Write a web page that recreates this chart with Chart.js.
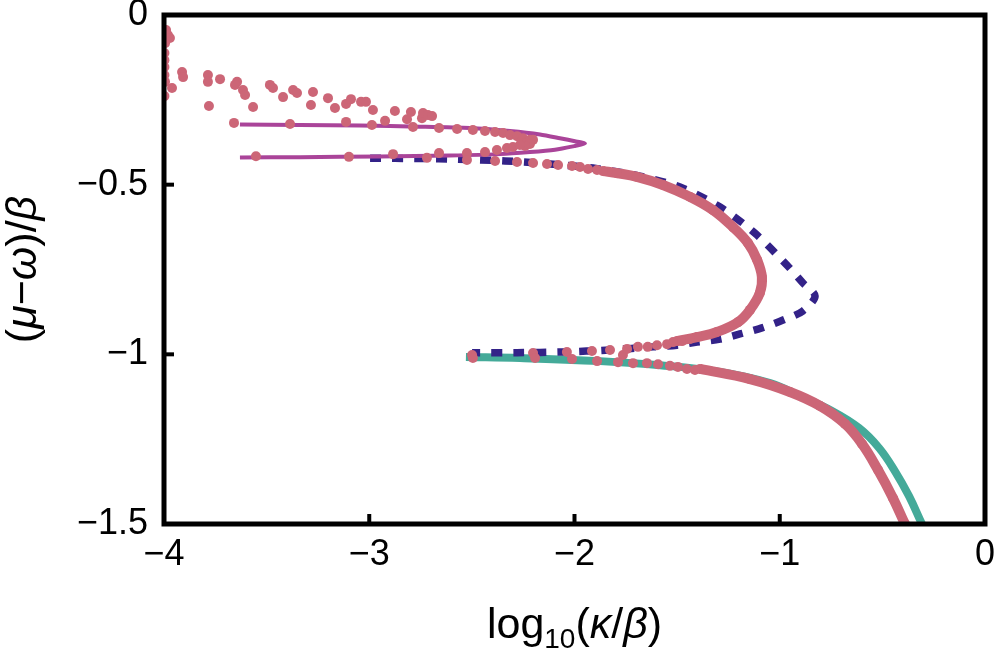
<!DOCTYPE html>
<html>
<head>
<meta charset="utf-8">
<script src="https://cdn.jsdelivr.net/npm/chart.js@4/dist/chart.umd.min.js"></script>
<style>
html,body{margin:0;padding:0;background:#fff;}
canvas{display:block;}
</style>
</head>
<body>
<canvas id="c" width="997" height="653"></canvas>
<script>
// Axis ticks
const xTicks = [-4, -3, -2, -1, 0];
const yTicks = [0, -0.5, -1, -1.5];

// Teal solid curve
const tealX = [-2.529,-2.266,-1.876,-1.583,-1.291,-1.047,-0.901,-0.745,-0.614,-0.516,-0.439,-0.370,-0.307,-0.268];
const tealY = [-1.008,-1.011,-1.020,-1.032,-1.052,-1.085,-1.123,-1.167,-1.217,-1.276,-1.344,-1.418,-1.500,-1.547];

// Dark blue dashed curve
const blueX = [-2.996,-2.753,-2.572,-2.339,-2.119,-1.910,-1.681,-1.486,-1.291,-1.121,-0.965,-0.887,-0.828,-0.887,-0.984,-1.087,-1.194,-1.291,-1.403,-1.501,-1.618,-1.827,-2.056,-2.280,-2.499];
const blueY = [-0.422,-0.423,-0.425,-0.430,-0.439,-0.451,-0.475,-0.507,-0.566,-0.643,-0.737,-0.790,-0.828,-0.872,-0.899,-0.922,-0.940,-0.955,-0.964,-0.973,-0.978,-0.987,-0.993,-0.995,-0.995];

// Purple solid curve
const purpleX = [-3.630,-3.337,-3.045,-2.753,-2.509,-2.314,-2.168,-2.071,-1.998,-1.949,-1.998,-2.095,-2.217,-2.363,-2.607,-2.948,-3.337,-3.630];
const purpleY = [-0.323,-0.324,-0.326,-0.329,-0.333,-0.342,-0.352,-0.363,-0.372,-0.379,-0.386,-0.397,-0.404,-0.410,-0.414,-0.417,-0.419,-0.420];

// Pink points, dense runs (overlapping dots)
const pinkAX = [-1.861,-1.793,-1.696,-1.569,-1.437,-1.325,-1.228,-1.155,-1.110,-1.087,-1.097,-1.145,-1.203,-1.306,-1.403,-1.501];
const pinkAY = [-0.460,-0.466,-0.477,-0.501,-0.536,-0.575,-0.625,-0.672,-0.722,-0.772,-0.819,-0.869,-0.905,-0.934,-0.949,-0.961];
const pinkBX = [-1.389,-1.145,-0.950,-0.804,-0.682,-0.599,-0.521,-0.448,-0.390,-0.361];
const pinkBY = [-1.043,-1.073,-1.111,-1.152,-1.205,-1.264,-1.341,-1.424,-1.500,-1.536];

// Pink points, sparse
const pinkX = [
 -3.990,-3.981,-3.971,-3.995,-3.998,-3.998,-3.998,-3.998,-3.995,-3.961,-3.998,-3.912,-3.907,-3.786,-3.786,-3.727,-3.781,-3.644,-3.654,-3.615,-3.605,-3.566,-3.484,-3.469,-3.420,-3.371,-3.352,-3.274,-3.284,-3.201,-3.167,-3.113,-3.089,-3.040,-3.016,-2.982,-2.923,-2.875,-2.816,-2.797,-2.743,-2.738,-2.714,-2.694,
 -3.659,-3.386,-3.113,-2.987,-2.787,-2.660,-2.572,-2.495,-2.436,-2.387,-2.348,-2.314,-2.280,-2.251,-2.231,-2.217,-2.202,-2.217,-2.241,
 -3.552,-3.099,-2.884,-2.719,-2.660,-2.524,-2.436,-2.378,-2.329,-2.300,-2.266,
 -2.524,-2.387,-2.280,-2.202,-2.134,-2.080,-2.012,-1.973,-1.934,-1.890,
 -2.499,-2.202,-2.037,-1.915,-1.827,-1.764,-1.744,-1.691,-1.643,-1.598,-1.549,-1.520,-1.476,-1.437,
 -2.495,-2.192,-2.012,-1.890,-1.788,-1.715,-1.647,-1.593,-1.535,-1.496,-1.452,-1.413
];
const pinkY = [
 -0.044,-0.059,-0.068,-0.083,-0.112,-0.133,-0.153,-0.177,-0.197,-0.215,-0.239,-0.168,-0.183,-0.177,-0.197,-0.189,-0.268,-0.197,-0.206,-0.221,-0.236,-0.271,-0.206,-0.215,-0.242,-0.221,-0.230,-0.227,-0.265,-0.245,-0.274,-0.262,-0.248,-0.256,-0.256,-0.280,-0.312,-0.283,-0.307,-0.286,-0.304,-0.289,-0.295,-0.298,
 -0.318,-0.321,-0.315,-0.324,-0.330,-0.333,-0.336,-0.339,-0.342,-0.345,-0.348,-0.354,-0.357,-0.363,-0.374,-0.368,-0.368,-0.380,-0.386,
 -0.416,-0.418,-0.410,-0.421,-0.407,-0.407,-0.404,-0.398,-0.392,-0.389,-0.383,
 -0.427,-0.430,-0.433,-0.436,-0.439,-0.442,-0.445,-0.448,-0.454,-0.457,
 -1.002,-0.996,-0.993,-0.990,-0.987,-1.002,-0.984,-0.978,-0.978,-0.973,-0.970,-0.964,-0.961,-0.955,
 -1.011,-1.011,-1.014,-1.020,-1.023,-1.026,-1.026,-1.029,-1.034,-1.037,-1.043,-1.046
];

const PINK = '#cc6677', TEAL = '#44aa99', BLUE = '#332288', PURPLE = '#aa4499';
const FONT = '"Liberation Sans", Arial, sans-serif';
const toPts = (xs, ys) => xs.map((x, i) => ({x: x, y: ys[i]}));
const minus = v => (v < 0 ? '\u2212' + Math.abs(v) : String(Math.abs(v)));
const zeroPad = s => { s.paddingTop = 0; s.paddingBottom = 0; s.paddingLeft = 0; s.paddingRight = 0; };

const framePlugin = {
  id: 'frame',
  afterDatasetsDraw(chart) {
    const {ctx, chartArea: a, scales: {x, y}} = chart;
    ctx.save();
    ctx.strokeStyle = '#000';
    ctx.lineWidth = 4;
    ctx.lineCap = 'butt';
    xTicks.forEach(v => {
      if (v === -4 || v === 0) return;
      const px = x.getPixelForValue(v);
      ctx.beginPath(); ctx.moveTo(px, a.bottom); ctx.lineTo(px, a.bottom - 10); ctx.stroke();
    });
    yTicks.forEach(v => {
      if (v === 0 || v === -1.5) return;
      const py = y.getPixelForValue(v);
      ctx.beginPath(); ctx.moveTo(a.left, py); ctx.lineTo(a.left + 10, py); ctx.stroke();
    });
    ctx.lineWidth = 5;
    ctx.strokeRect(a.left, a.top, a.right - a.left, a.bottom - a.top);
    ctx.restore();
  },
  afterDraw(chart) {
    const {ctx, chartArea: a} = chart;
    ctx.save();
    ctx.fillStyle = '#000';
    ctx.textBaseline = 'alphabetic';
    const big = 43, small = 28;
    // x title: log10(κ/β)
    const xs = [
      ['log', `${big}px ${FONT}`, 0],
      ['10', `${small}px ${FONT}`, 10],
      ['(', `${big}px ${FONT}`, 0],
      ['\u03BA', `italic ${big}px ${FONT}`, 0],
      ['/', `${big}px ${FONT}`, 0],
      ['\u03B2', `italic ${big}px ${FONT}`, 0],
      [')', `${big}px ${FONT}`, 0]
    ];
    let w = 0;
    xs.forEach(s => { ctx.font = s[1]; w += ctx.measureText(s[0]).width; });
    let cx = (a.left + a.right) / 2 - w / 2;
    const base = 638;
    xs.forEach(s => { ctx.font = s[1]; ctx.fillText(s[0], cx, base + s[2]); cx += ctx.measureText(s[0]).width; });
    // y title: (μ−ω)/β
    const ys = [
      ['(', `${big}px ${FONT}`],
      ['\u03BC', `italic ${big}px ${FONT}`],
      ['\u2212', `${big}px ${FONT}`],
      ['\u03C9', `italic ${big}px ${FONT}`],
      [')/', `${big}px ${FONT}`],
      ['\u03B2', `italic ${big}px ${FONT}`]
    ];
    w = 0;
    ys.forEach(s => { ctx.font = s[1]; w += ctx.measureText(s[0]).width; });
    ctx.translate(36, (a.top + a.bottom) / 2);
    ctx.rotate(-Math.PI / 2);
    cx = -w / 2;
    ys.forEach(s => { ctx.font = s[1]; ctx.fillText(s[0], cx, 0); cx += ctx.measureText(s[0]).width; });
    ctx.restore();
  }
};

new Chart(document.getElementById('c'), {
  type: 'scatter',
  data: {
    datasets: [
      {data: toPts(pinkX, pinkY), showLine: false, pointRadius: 5, pointBackgroundColor: PINK, pointBorderWidth: 0, order: 0, clip: 0},
      {data: toPts(pinkAX, pinkAY), showLine: true, borderColor: PINK, borderWidth: 10, tension: 0.4, pointRadius: 5, pointBackgroundColor: PINK, pointBorderWidth: 0, order: 0, clip: 0},
      {data: toPts(pinkBX, pinkBY), showLine: true, borderColor: PINK, borderWidth: 10, tension: 0.4, pointRadius: 5, pointBackgroundColor: PINK, pointBorderWidth: 0, order: 0, clip: 0},
      {data: toPts(purpleX, purpleY), showLine: true, borderColor: PURPLE, borderWidth: 4, tension: 0.25, pointRadius: 0, order: 1, clip: 0},
      {data: toPts(blueX, blueY), showLine: true, borderColor: BLUE, borderWidth: 7.5, borderDash: [11, 11], borderCapStyle: 'butt', tension: 0.3, pointRadius: 0, order: 2, clip: 0},
      {data: toPts(tealX, tealY), showLine: true, borderColor: TEAL, borderWidth: 8, tension: 0.4, pointRadius: 0, order: 3, clip: 0}
    ]
  },
  options: {
    responsive: false,
    animation: false,
    layout: {padding: {top: 15, right: 12, left: 0, bottom: 0}},
    plugins: {legend: {display: false}, tooltip: {enabled: false}},
    scales: {
      x: {
        type: 'linear', min: -4, max: 0,
        afterBuildTicks: s => { s.ticks = xTicks.map(v => ({value: v})); },
        afterFit: s => { s.height = 129; zeroPad(s); },
        ticks: {callback: v => minus(v), color: '#000', font: {family: FONT, size: 36}, padding: 9, maxRotation: 0},
        grid: {display: false, drawTicks: false},
        border: {display: false}
      },
      y: {
        type: 'linear', min: -1.5, max: 0,
        afterBuildTicks: s => { s.ticks = yTicks.map(v => ({value: v})); },
        afterFit: s => { s.width = 164; zeroPad(s); },
        ticks: {callback: v => minus(v), color: '#000', font: {family: FONT, size: 36}, padding: 16},
        grid: {display: false, drawTicks: false},
        border: {display: false}
      }
    }
  },
  plugins: [framePlugin]
});
</script>
</body>
</html>
